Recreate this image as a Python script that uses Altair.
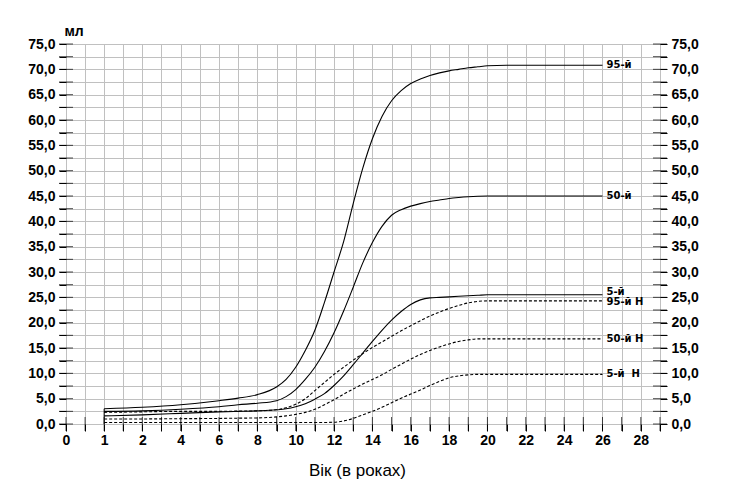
import altair as alt
import pandas as pd

# ---- data ----
ages = [1, 2, 4, 6, 7, 8, 9, 9.5, 10, 10.5, 11, 11.5, 12, 12.5, 13, 13.5, 14, 14.5,
        15, 15.5, 16, 16.5, 17, 17.5, 18, 18.5, 19, 19.5, 20, 21, 22, 24, 26]

p95 = [3.0, 3.3, 3.8, 4.6, 5.1, 5.8, 7.3, 8.8, 11.2, 14.5, 18.5, 24.0, 30.0, 36.0, 43.5, 50.5,
       56.3, 60.7, 63.8, 65.8, 67.2, 68.1, 68.8, 69.3, 69.7, 70.0, 70.3, 70.5, 70.7, 70.8,
       70.8, 70.8, 70.8]
p50 = [2.5, 2.6, 2.9, 3.4, 3.8, 4.1, 4.6, 5.4, 6.8, 8.8, 11.2, 14.3, 18.0, 22.3, 27.0, 31.8,
       35.8, 39.0, 41.2, 42.3, 43.0, 43.5, 43.9, 44.2, 44.5, 44.7, 44.85, 44.95, 45.0, 45.0,
       45.0, 45.0, 45.0]
p5 = [1.6, 1.8, 2.1, 2.4, 2.5, 2.6, 2.8, 3.0, 3.4, 4.0, 4.9, 6.0, 7.6, 9.5, 11.7, 14.0,
      16.3, 18.5, 20.5, 22.2, 23.6, 24.5, 24.9, 25.0, 25.1, 25.2, 25.3, 25.4, 25.5, 25.5,
      25.5, 25.5, 25.5]
p95n = [2.3, 2.4, 2.5, 2.5, 2.55, 2.6, 2.8, 3.2, 3.9, 5.0, 6.6, 8.2, 9.8, 11.2, 12.6, 13.9,
        15.1, 16.2, 17.3, 18.4, 19.4, 20.4, 21.3, 22.1, 22.8, 23.4, 23.9, 24.2, 24.3, 24.3,
        24.3, 24.3, 24.3]
p50n = [1.0, 1.0, 1.05, 1.1, 1.15, 1.2, 1.4, 1.6, 1.9, 2.3, 2.9, 3.8, 4.8, 5.9, 6.9, 7.9,
        8.8, 9.7, 10.8, 11.8, 12.8, 13.7, 14.5, 15.2, 15.8, 16.3, 16.6, 16.8, 16.8, 16.8,
        16.8, 16.8, 16.8]
p5n = [0.3, 0.3, 0.3, 0.3, 0.3, 0.3, 0.3, 0.3, 0.3, 0.3, 0.3, 0.3, 0.35, 0.6, 1.1, 1.8,
       2.5, 3.3, 4.2, 5.1, 5.9, 6.7, 7.6, 8.4, 9.1, 9.5, 9.7, 9.8, 9.8, 9.8,
       9.8, 9.8, 9.8]

series_names = ["95-й", "50-й", "5-й", "95-й Н", "50-й Н", "5-й \u00a0Н"]
series_kind = ["solid", "solid", "solid", "dashed", "dashed", "dashed"]
series_values = [p95, p50, p5, p95n, p50n, p5n]

x_ticks = [0, 0.5, 1, 1.5, 2, 3, 4, 5, 6, 7, 8, 9, 10, 11, 12, 13, 14, 15, 16, 17, 18,
           19, 20, 21, 22, 23, 24, 25, 26, 27, 28, 29]
x_labels = [0, 1, 2, 4, 6, 8, 10, 12, 14, 16, 18, 20, 22, 24, 26, 28]
y_ticks = [0, 2.5, 5, 7.5, 10, 12.5, 15, 17.5, 20, 22.5, 25, 27.5, 30, 32.5, 35, 37.5, 40,
           42.5, 45, 47.5, 50, 52.5, 55, 57.5, 60, 62.5, 65, 67.5, 70, 72.5, 75]
x_min, x_max, y_min = 0, 29, 0

# ---- tables ----
rows = []
for name, kind, vals in zip(series_names, series_kind, series_values):
    for a, v in zip(ages, vals):
        rows.append({"age": a, "value": v, "series": name, "kind": kind})
df = pd.DataFrame(rows)

lab_df = pd.DataFrame({
    "age": [ages[-1]] * len(series_names),
    "value": [vals[-1] for vals in series_values],
    "series": series_names,
})

xt_df = pd.DataFrame({"t": x_ticks, "y0": [y_min] * len(x_ticks)})
yt_df = pd.DataFrame({"t": y_ticks, "xl": [x_min] * len(y_ticks), "xr": [x_max] * len(y_ticks)})
rule_df = pd.DataFrame({"age": [ages[0]], "lo": [y_min], "hi": [p95[0]]})

FONT = "Liberation Sans"
xscale = alt.Scale(domain=[0, 2, 29], range=[0, 76.3, 594])
yscale = alt.Scale(domain=[0, 75], nice=False, zero=False)

x_label_expr = ("indexof([" + ",".join(str(v) for v in x_labels) +
                "], datum.value) >= 0 ? '' + datum.value : ''")
y_label_expr = "datum.value % 5 == 0 ? replace(format(datum.value, '.1f'), '.', ',') : ''"

x_axis = alt.Axis(values=x_ticks, grid=True, gridColor="#c0c0c0", gridWidth=1,
                  domain=False, ticks=True, tickSize=7, tickColor="black",
                  labelExpr=x_label_expr, labelFont=FONT, labelFontWeight="bold",
                  labelFontSize=14, labelColor="black", labelPadding=2,
                  labelFlush=False, labelOverlap=False,
                  title="Вік (в роках)", titleFont=FONT, titleFontWeight="normal",
                  titleFontSize=17, titleColor="black", titleX=291, titleY=51,
                  titleAlign="center", titleBaseline="alphabetic")

y_axis_left = alt.Axis(values=y_ticks, grid=True, gridColor="#c0c0c0", gridWidth=1,
                       domain=False, ticks=True, tickSize=7, tickColor="black",
                       orient="left",
                       labelExpr=y_label_expr, labelFont=FONT, labelFontWeight="bold",
                       labelFontSize=14, labelColor="black", labelPadding=4,
                       labelFlush=False, labelOverlap=False,
                       title="мл", titleFont=FONT, titleFontWeight="bold",
                       titleFontSize=14, titleColor="black", titleAngle=0,
                       titleX=-2, titleY=-9, titleAlign="left",
                       titleBaseline="alphabetic")

y_axis_right = alt.Axis(values=y_ticks, grid=False, domain=False, ticks=True,
                        tickSize=7, tickColor="black", orient="right",
                        labelExpr=y_label_expr, labelFont=FONT, labelFontWeight="bold",
                        labelFontSize=14, labelColor="black", labelPadding=4,
                        labelFlush=False, labelOverlap=False, title=None)


def X(field):
    return alt.X(field, scale=xscale, axis=x_axis)


def Y(field, axis=None):
    return alt.Y(field, scale=yscale, axis=axis)


solid = alt.Chart(df).transform_filter(alt.datum.kind == "solid").mark_line(
    interpolate="monotone", color="black", strokeWidth=1.1
).encode(x=X("age:Q"), y=Y("value:Q", y_axis_left), detail="series:N")

dashed = alt.Chart(df).transform_filter(alt.datum.kind == "dashed").mark_line(
    interpolate="monotone", color="black", strokeWidth=1.1, strokeDash=[3, 2]
).encode(x=X("age:Q"), y=Y("value:Q"), detail="series:N")

start_rule = alt.Chart(rule_df).mark_rule(color="black", strokeWidth=1).encode(
    x=X("age:Q"), y=Y("lo:Q"), y2="hi:Q"
)

labels_main = alt.Chart(lab_df).transform_filter(
    (alt.datum.series != "5-й") & (alt.datum.series != "95-й Н")
).mark_text(
    align="left", baseline="middle", dx=4, font="DejaVu Sans", fontWeight="bold",
    fontSize=10, color="black"
).encode(x=X("age:Q"), y=Y("value:Q"), text="series:N")

labels_5 = alt.Chart(lab_df).transform_filter(alt.datum.series == "5-й").mark_text(
    align="left", baseline="middle", dx=4, dy=-3, font="DejaVu Sans", fontWeight="bold",
    fontSize=10, color="black"
).encode(x=X("age:Q"), y=Y("value:Q"), text="series:N")

labels_95n = alt.Chart(lab_df).transform_filter(alt.datum.series == "95-й Н").mark_text(
    align="left", baseline="middle", dx=4, dy=1, font="DejaVu Sans", fontWeight="bold",
    fontSize=10, color="black"
).encode(x=X("age:Q"), y=Y("value:Q"), text="series:N")

xticks_in = alt.Chart(xt_df).mark_tick(orient="vertical", size=14, thickness=1,
                                        color="black").encode(x=X("t:Q"), y=Y("y0:Q"))

yticks_left = alt.Chart(yt_df).mark_tick(orient="horizontal", size=14, thickness=1,
                                          color="black").encode(x=X("xl:Q"), y=Y("t:Q"))

yticks_right = alt.Chart(yt_df).mark_tick(orient="horizontal", size=14, thickness=1,
                                           color="black").encode(
    x=X("xr:Q"), y=Y("t:Q", y_axis_right))

chart = alt.layer(
    solid, dashed, start_rule, labels_main, labels_5, labels_95n,
    xticks_in, yticks_left, yticks_right
).resolve_axis(y="independent").properties(
    width=594, height=380,
    autosize="none",
    padding={"left": 66, "top": 44, "right": 70, "bottom": 79},
    background="white",
).configure_view(stroke="black", strokeWidth=1)

chart.save("out.html", embed_options={"renderer": "svg", "actions": False})
